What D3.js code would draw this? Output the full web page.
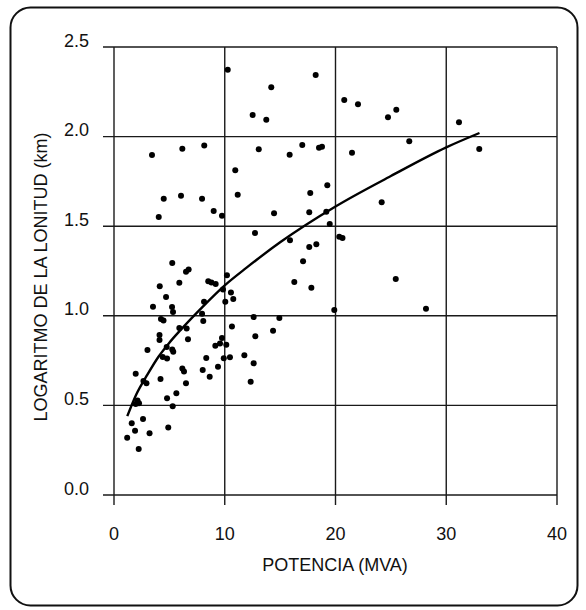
<!DOCTYPE html>
<html>
<head>
<meta charset="utf-8">
<script src="https://cdn.jsdelivr.net/npm/d3@7"></script>
<style>
  body { margin: 0; background: #fff; }
  svg { display: block; font-family: "Liberation Sans", Arial, sans-serif; }
</style>
</head>
<body>
<div id="chart"></div>
<script>
// scatter points (MVA, log km)
const potencia = [
  10.27, 18.21, 14.20, 12.52, 13.75, 20.79, 22.03, 24.74, 25.49, 31.15,
  26.66, 32.98, 3.43, 6.17, 8.15, 13.07, 15.86, 17.00, 18.51, 18.78,
  21.49, 10.95, 19.26, 4.49, 6.05, 7.95, 11.17, 17.72, 24.17, 4.04,
  9.00, 9.75, 14.45, 17.63, 19.17, 19.48, 20.34, 20.63, 12.73, 15.89,
  17.63, 18.27, 17.07, 5.26, 6.50, 6.74, 25.44, 19.89, 28.17, 4.13,
  5.90, 8.51, 8.80, 9.18, 10.20, 9.84, 10.56, 10.77, 10.05, 4.70,
  3.52, 5.24, 5.33, 8.13, 7.95, 8.06, 4.24, 4.47, 12.61, 14.93,
  16.28, 17.82, 5.90, 6.56, 10.65, 14.36, 12.76, 4.11, 4.11, 6.68,
  9.75, 9.57, 9.15, 10.14, 3.02, 4.76, 5.26, 4.40, 4.79, 5.35,
  8.33, 9.91, 10.47, 11.77, 12.61, 9.39, 8.01, 8.64, 6.17, 6.32,
  1.96, 2.66, 2.93, 4.20, 6.50, 12.34, 5.63, 4.79, 2.12, 2.26,
  1.96, 5.30, 1.60, 2.62, 1.90, 3.21, 4.90, 1.19, 2.23
];
const logLongitud = [
  2.373, 2.344, 2.275, 2.121, 2.094, 2.204, 2.180, 2.108, 2.150, 2.080,
  1.974, 1.931, 1.897, 1.932, 1.951, 1.929, 1.899, 1.953, 1.938, 1.944,
  1.910, 1.812, 1.728, 1.653, 1.670, 1.653, 1.676, 1.685, 1.633, 1.551,
  1.585, 1.559, 1.572, 1.578, 1.581, 1.512, 1.441, 1.434, 1.462, 1.421,
  1.384, 1.399, 1.304, 1.295, 1.246, 1.259, 1.205, 1.032, 1.040, 1.165,
  1.185, 1.193, 1.186, 1.177, 1.226, 1.147, 1.130, 1.094, 1.079, 1.105,
  1.051, 1.049, 1.021, 1.079, 1.012, 0.971, 0.982, 0.974, 0.993, 0.988,
  1.189, 1.157, 0.932, 0.929, 0.940, 0.917, 0.886, 0.893, 0.865, 0.869,
  0.876, 0.845, 0.833, 0.839, 0.809, 0.826, 0.812, 0.770, 0.762, 0.800,
  0.765, 0.763, 0.768, 0.780, 0.735, 0.716, 0.698, 0.660, 0.706, 0.689,
  0.677, 0.636, 0.623, 0.648, 0.624, 0.632, 0.568, 0.540, 0.527, 0.512,
  0.508, 0.495, 0.400, 0.424, 0.359, 0.345, 0.376, 0.319, 0.257
];

// fitted curve
const curvaX = [1.2, 2, 3, 4, 5, 6, 8, 10, 12, 15, 20, 25, 30, 33];
const curvaY = [0.44, 0.56, 0.67, 0.77, 0.85, 0.92, 1.05, 1.17, 1.27, 1.41, 1.61, 1.78, 1.94, 2.02];

const xTicks = [0, 10, 20, 30, 40];
const yTicks = [0, 0.5, 1.0, 1.5, 2.0, 2.5];

const width = 586;
const height = 610;
const plot = { left: 114, right: 557, top: 47, bottom: 495 };
const fontSize = 18;

const svg = d3.select("#chart")
  .append("svg")
  .attr("width", width)
  .attr("height", height);

// outer frame
svg.append("rect")
  .attr("x", 10.5)
  .attr("y", 7.5)
  .attr("width", 567)
  .attr("height", 598)
  .attr("rx", 20)
  .attr("fill", "none")
  .attr("stroke", "#111")
  .attr("stroke-width", 2);

const x = d3.scaleLinear().domain([0, 40]).range([plot.left, plot.right]);
const y = d3.scaleLinear().domain([0, 2.5]).range([plot.bottom, plot.top]);

const gridColor = "#1a1a1a";

// grid
svg.append("g")
  .selectAll("line")
  .data(yTicks)
  .join("line")
  .attr("x1", plot.left - 11)
  .attr("x2", plot.right)
  .attr("y1", (d) => y(d))
  .attr("y2", (d) => y(d))
  .attr("stroke", gridColor)
  .attr("stroke-width", 1.4);

svg.append("g")
  .selectAll("line")
  .data(xTicks)
  .join("line")
  .attr("x1", (d) => x(d))
  .attr("x2", (d) => x(d))
  .attr("y1", plot.top)
  .attr("y2", plot.bottom + 10)
  .attr("stroke", gridColor)
  .attr("stroke-width", 1.4);

// tick labels
svg.append("g")
  .selectAll("text")
  .data(yTicks)
  .join("text")
  .attr("x", 89)
  .attr("y", (d) => y(d) - 0.5)
  .attr("text-anchor", "end")
  .attr("font-size", fontSize)
  .attr("fill", "#111")
  .text((d) => d3.format(".1f")(d));

svg.append("g")
  .selectAll("text")
  .data(xTicks)
  .join("text")
  .attr("x", (d) => x(d))
  .attr("y", 540)
  .attr("text-anchor", "middle")
  .attr("font-size", fontSize)
  .attr("fill", "#111")
  .text((d) => d);

// axis titles
svg.append("text")
  .attr("x", 335)
  .attr("y", 571)
  .attr("text-anchor", "middle")
  .attr("font-size", fontSize)
  .attr("fill", "#111")
  .text("POTENCIA (MVA)");

svg.append("text")
  .attr("transform", "translate(47, 277) rotate(-90)")
  .attr("text-anchor", "middle")
  .attr("font-size", fontSize)
  .attr("fill", "#111")
  .text("LOGARITMO DE LA LONITUD (km)");

// points
const puntos = potencia.map((p, i) => ({ x: p, y: logLongitud[i] }));

svg.append("g")
  .selectAll("circle")
  .data(puntos)
  .join("circle")
  .attr("cx", (d) => x(d.x))
  .attr("cy", (d) => y(d.y))
  .attr("r", 3)
  .attr("fill", "#000");

// fitted curve
const curva = curvaX.map((c, i) => [c, curvaY[i]]);
svg.append("path")
  .datum(curva)
  .attr("fill", "none")
  .attr("stroke", "#000")
  .attr("stroke-width", 2.4)
  .attr("d", d3.line()
    .x((d) => x(d[0]))
    .y((d) => y(d[1]))
    .curve(d3.curveMonotoneX));
</script>
</body>
</html>
